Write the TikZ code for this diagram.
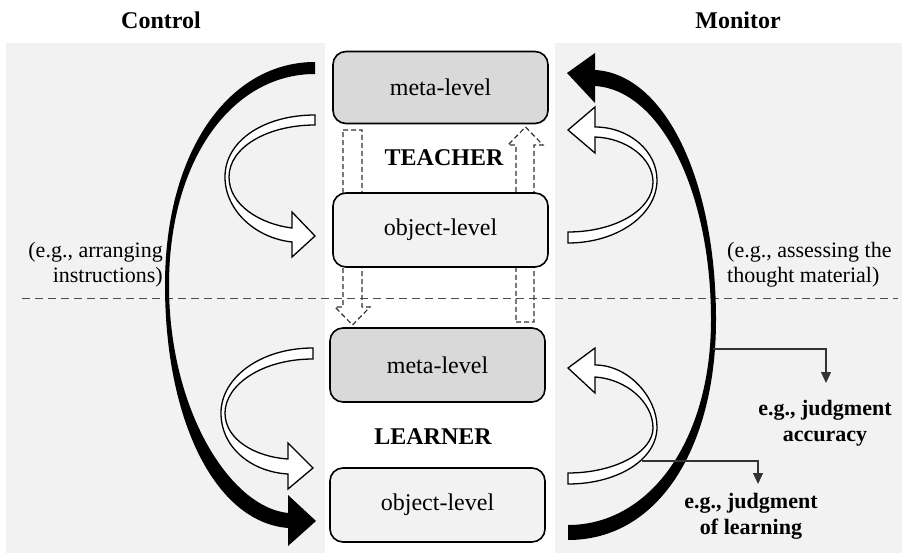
\documentclass[tikz,border=0pt]{standalone}
\usepackage{fontspec}
\setmainfont{Liberation Serif}
\usetikzlibrary{arrows.meta}
\definecolor{panel}{HTML}{F2F2F2}
\definecolor{metafill}{HTML}{D9D9D9}
\begin{document}
\begin{tikzpicture}[x=1pt,y=-1pt,
  levelbox/.style={draw=black, line width=1.6pt, rounded corners=13pt, minimum width=215pt, inner sep=0pt, font=\fontsize{24}{28}\selectfont},
  metabox/.style={levelbox, fill=metafill, minimum height=72pt},
  objbox/.style={levelbox, fill=panel, minimum height=74pt},
  heading/.style={font=\fontsize{24}{28}\selectfont\bfseries, inner sep=0pt},
  note/.style={font=\fontsize{22}{25}\selectfont, inner sep=0pt},
  judg/.style={font=\fontsize{22}{26}\selectfont\bfseries, align=center, inner sep=0pt},
  ribbon/.style={draw=black, line width=1.3pt, fill=white},
  blackarc/.style={fill=black},
  dashblock/.style={draw=black!80, line width=1.2pt, dash pattern=on 5pt off 3pt},
  pointer/.style={draw=black!80, line width=1.1pt, -{Triangle[length=11pt,width=10pt]}}
]
\useasboundingbox (0,0) rectangle (904,553);
\fill[white] (0,0) rectangle (904,553);
% panels
\fill[panel] (6,43) rectangle (325,553);
\fill[panel] (555,43) rectangle (902,553);

% headings
\node[heading] (control) at (161,20) {Control};
\node[heading] (monitor) at (738,20) {Monitor};

% dashed block arrows
\draw[dashblock] (343,130) -- (362,130) -- (362,307) -- (370,307) -- (352.5,325) -- (335,307) -- (343,307) -- cycle;
\draw[dashblock] (516,322) -- (534,322) -- (534,145) -- (543,145) -- (525.5,127) -- (508,145) -- (516,145) -- cycle;

% separator
\draw[black!70, line width=1pt, dash pattern=on 8pt off 5pt] (22,298) -- (898,298);

% boxes
\node[metabox] (tmeta) at (440.5,87.5) {meta-level};
\node[objbox] (tobj) at (440.5,230) {object-level};
\node[metabox, minimum height=74pt] (lmeta) at (437.5,365) {meta-level};
\node[objbox] (lobj) at (437.5,505) {object-level};
\node[heading] (teacher) at (444,158) {TEACHER};
\node[heading] (learner) at (433,437) {LEARNER};

% black arcs
\fill[blackarc] (315,62) .. controls (230,62) and (165,150) .. (165,285)
  .. controls (165,420) and (215,522) .. (288,528)
  -- (288,546) -- (316,521) -- (288,495) -- (288,513)
  .. controls (230,507) and (169,410) .. (169,285)
  .. controls (169,160) and (232,74) .. (315,74) -- cycle;
\fill[blackarc] (595,70) .. controls (665,74) and (716,180) .. (716,320)
  .. controls (716,445) and (660,540) .. (568,540)
  -- (568,525) .. controls (650,525) and (711,440) .. (711,320)
  .. controls (711,190) and (660,90) .. (595,86)
  -- (595,103) -- (567,73) -- (595,53) -- cycle;

% hollow ribbons, left
\draw[ribbon] (315,115) .. controls (265,115) and (225,140) .. (225,177)
  .. controls (225,210) and (255,238) .. (292,242)
  -- (292,257) -- (315,236) -- (292,212) -- (292,228)
  .. controls (260,224) and (229,205) .. (229,177)
  .. controls (229,147) and (268,125) .. (315,125) -- cycle;
\draw[ribbon] (313,348) .. controls (260,348) and (221,378) .. (221,413)
  .. controls (221,448) and (252,472) .. (288,474)
  -- (288,489) -- (313,468) -- (288,443) -- (288,459)
  .. controls (256,457) and (225,440) .. (225,413)
  .. controls (225,385) and (262,359) .. (313,359) -- cycle;
% hollow ribbons, right
\draw[ribbon] (595,127) .. controls (629,127) and (657,151) .. (657,180)
  .. controls (657,215) and (617,243) .. (568,243)
  -- (568,232) .. controls (615,232) and (653,210) .. (653,182)
  .. controls (653,158) and (626,138) .. (595,137)
  -- (595,153) -- (568,130) -- (595,107) -- cycle;
\draw[ribbon] (595,365) .. controls (629,365) and (657,398) .. (657,427)
  .. controls (657,460) and (617,484) .. (568,484)
  -- (568,473) .. controls (615,473) and (653,452) .. (653,428)
  .. controls (653,402) and (626,379) .. (595,377)
  -- (595,393) -- (568,368) -- (595,348) -- cycle;

% side notes
\node[note, anchor=north east, align=right] (cnote) at (163,242) {(e.g., arranging\\instructions)};
\node[note, anchor=north west, align=left] (mnote) at (727,242) {(e.g., assessing the\\thought material)};

% judgment pointers
\coordinate (acc0) at (713,349);
\coordinate (jol0) at (642,461);
\node[judg] (acc) at (825,423) {e.g., judgment\\accuracy};
\node[judg] (jol) at (751,516.5) {e.g., judgment\\of learning};
\draw[pointer] (acc0) -- (826,349) -- (826,383);
\draw[pointer] (jol0) -- (758,461) -- (758,484);
\end{tikzpicture}
\end{document}
